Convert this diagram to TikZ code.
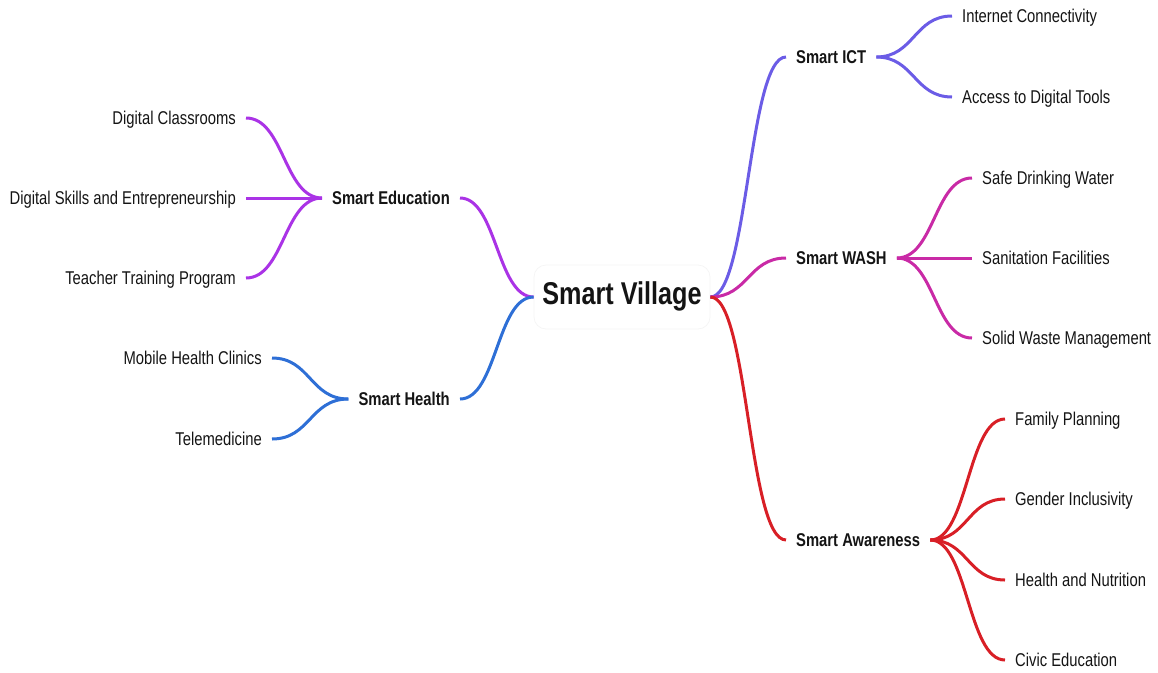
\documentclass[tikz,border=0pt]{standalone}
\usepackage{fontspec}
\setmainfont{Liberation Sans}[FakeStretch=0.8]
\usetikzlibrary{calc}
\definecolor{cict}{HTML}{6B5CE6}
\definecolor{cwash}{HTML}{C92AA6}
\definecolor{caware}{HTML}{D81F26}
\definecolor{cedu}{HTML}{AA33E6}
\definecolor{chealth}{HTML}{2E6FD6}
\definecolor{ink}{HTML}{141414}
\begin{document}
\begin{tikzpicture}[x=1pt,y=-1pt,
  leaf/.style={font=\fontsize{18.5}{20}\selectfont, text=ink, inner xsep=10pt, inner ysep=0pt,
               text height=17.2pt, text depth=4pt},
  branch/.style={leaf, font=\fontsize{18.5}{20}\selectfont\bfseries},
  root/.style={font=\fontsize{31.5}{34}\selectfont\bfseries, text=ink, draw=black!4, line width=0.8pt,
               rounded corners=12pt, minimum width=176pt, minimum height=64pt,
               text height=22.6pt, text depth=8pt, inner sep=0pt},
  link/.style={line width=3pt, to path={let \p1=(\tikztostart), \p2=(\tikztotarget),
               \n1={(\x1+\x2)/2} in .. controls (\n1,\y1) and (\n1,\y2) .. (\tikztotarget)}},
]
\useasboundingbox (0,0) rectangle (1158,672);

% centre
\node[root] (sv) at (622,297) {Smart Village};

% right-hand branches
\node[branch, anchor=west] (ict)  at (786,57)  {Smart ICT};
\node[branch, anchor=west] (wash) at (786,258) {Smart WASH};
\node[branch, anchor=west] (aw)   at (786,540) {Smart Awareness};

% left-hand branches
\node[branch, anchor=east] (edu) at (460,198) {Smart Education};
\node[branch, anchor=east] (hl)  at (460,399) {Smart Health};

% ICT leaves
\node[leaf, anchor=west] (ict1) at (952,16) {Internet Connectivity};
\node[leaf, anchor=west] (ict2) at (952,97) {Access to Digital Tools};

% WASH leaves
\node[leaf, anchor=west] (w1) at (972,178) {Safe Drinking Water};
\node[leaf, anchor=west] (w2) at (972,258) {Sanitation Facilities};
\node[leaf, anchor=west] (w3) at (972,338) {Solid Waste Management};

% Awareness leaves
\node[leaf, anchor=west] (a1) at (1005,419) {Family Planning};
\node[leaf, anchor=west] (a2) at (1005,499) {Gender Inclusivity};
\node[leaf, anchor=west] (a3) at (1005,580) {Health and Nutrition};
\node[leaf, anchor=west] (a4) at (1005,660) {Civic Education};

% Education leaves
\node[leaf, anchor=east] (e1) at (246,118) {Digital Classrooms};
\node[leaf, anchor=east] (e2) at (246,198) {Digital Skills and Entrepreneurship};
\node[leaf, anchor=east] (e3) at (246,278) {Teacher Training Program};

% Health leaves
\node[leaf, anchor=east] (h1) at (272,358) {Mobile Health Clinics};
\node[leaf, anchor=east] (h2) at (272,439) {Telemedicine};

% connectors
\draw[link, cict]    (sv.east) to (ict.west);
\draw[link, cwash]   (sv.east) to (wash.west);
\draw[link, caware]  (sv.east) to (aw.west);
\draw[link, cedu]    (sv.west) to (edu.east);
\draw[link, chealth] (sv.west) to (hl.east);

\foreach \c in {ict1,ict2} \draw[link, cict] (ict.east) to (\c.west);
\foreach \c in {w1,w2,w3} \draw[link, cwash] (wash.east) to (\c.west);
\foreach \c in {a1,a2,a3,a4} \draw[link, caware] (aw.east) to (\c.west);
\foreach \c in {e1,e2,e3} \draw[link, cedu] (edu.west) to (\c.east);
\foreach \c in {h1,h2} \draw[link, chealth] (hl.west) to (\c.east);
\end{tikzpicture}
\end{document}
